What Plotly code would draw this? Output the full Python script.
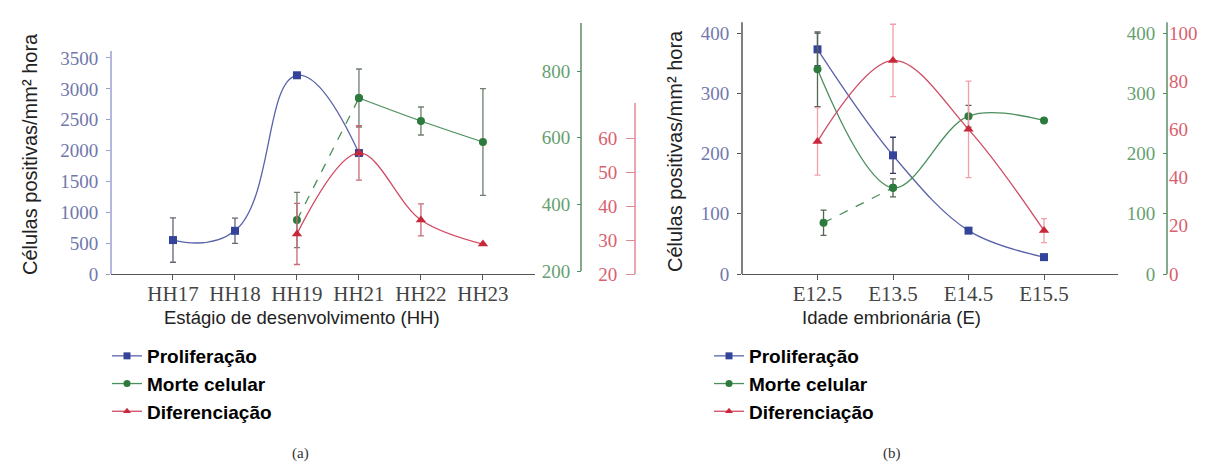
import plotly.graph_objects as go

# ---------------- data ----------------
# Panel (a)
cats_a = ["HH17", "HH18", "HH19", "HH21", "HH22", "HH23"]
prolif_a_cats = ["HH17", "HH18", "HH19", "HH21"]
prolif_a = [550, 700, 3220, 1960]
prolif_a_err = [360, 205, None, None]
morte_a_cats = ["HH21", "HH22", "HH23"]
morte_a = [719, 650, 587]
morte_a_err = [87, 42, 160]
morte_a_dash_cats = ["HH19", "HH21"]
morte_a_dash = [353, 719]
morte_a_dash_err = [83, None]
dif_a_cats = ["HH19", "HH21", "HH22", "HH23"]
dif_a = [31.8, 55.6, 35.9, 28.8]
dif_a_err = [9, 8, 4.7, None]

# Panel (b)
cats_b = ["E12.5", "E13.5", "E14.5", "E15.5"]
prolif_b = [373, 197, 72, 28]
prolif_b_err = [27, 30, None, None]
morte_b = [340, 143, 262, 255]
morte_b_err = [62, 15, 18, None]
morte_b_dash_cats = ["E12.5", "E13.5"]
morte_b_dash = [85, 143]
morte_b_dash_err = [21, None]
dif_b = [55, 88.6, 60, 18]
dif_b_err = [14, 15, 20, 5]

# tick values
ticks_prolif_a = [0, 500, 1000, 1500, 2000, 2500, 3000, 3500]
ticks_morte_a = [200, 400, 600, 800]
ticks_dif_a = [20, 30, 40, 50, 60]
ticks_prolif_b = [0, 100, 200, 300, 400]
ticks_morte_b = [0, 100, 200, 300, 400]
ticks_dif_b = [0, 20, 40, 60, 80, 100]

Y_TITLE = "Células positivas/mm² hora"
DASH_OFFSET = 0.08

# ---------------- geometry helpers ----------------
W, H = 1205, 465
def fx(p):
    return p / W
def fy(p):
    return 1 - p / H

BLUE_L, BLUE_M = "#5a62aa", "#34449a"
GREEN_L, GREEN_M = "#4a8f5c", "#2c7a3c"
RED_L, RED_M = "#d04a62", "#c8283a"
BLUE_T, GREEN_T, RED_T = "#7177ad", "#66a070", "#d9606e"

SERIF = "Liberation Serif"
SANS = "Liberation Sans"

def idx(cats, labels, off=0.0):
    return [cats.index(c) + (off if i == 0 else 0) for i, c in enumerate(labels)]

fig = go.Figure()

def add(x, y, err, xa, ya, name, lc, mc, sym, ecol, dash="solid", size=8, smooth=1.0):
    fig.add_trace(go.Scatter(
        x=x, y=y, xaxis=xa, yaxis=ya, name=f"<b>{name}</b>",
        mode="lines+markers",
        line=dict(color=lc, width=1.3, shape="spline", smoothing=smooth, dash=dash),
        marker=dict(symbol=sym, size=size, color=mc),
        error_y=dict(type="data", array=err, visible=True, color=ecol, thickness=1.3, width=3),
        showlegend=False, cliponaxis=False,
    ))

# Panel (a)
add(idx(cats_a, morte_a_dash_cats), morte_a_dash, morte_a_dash_err, "x", "y3", "Morte celular",
    GREEN_L, GREEN_M, "circle", "#6f7f6f", dash="dash")
add(idx(cats_a, morte_a_cats), morte_a, morte_a_err, "x", "y3", "Morte celular",
    GREEN_L, GREEN_M, "circle", "#6f7f6f")
add(idx(cats_a, prolif_a_cats), prolif_a, prolif_a_err, "x", "y", "Proliferação",
    BLUE_L, BLUE_M, "square", "#666677", smooth=1.3)
add(idx(cats_a, dif_a_cats), dif_a, dif_a_err, "x", "y4", "Diferenciação",
    RED_L, RED_M, "triangle-up", "#c86a78", size=9)

# Panel (b)
xb = list(range(len(cats_b)))
add(xb, dif_b, dif_b_err, "x2", "y6", "Diferenciação",
    RED_L, RED_M, "triangle-up", "#f0a0aa", size=9)
add(xb, prolif_b, prolif_b_err, "x2", "y2", "Proliferação",
    BLUE_L, BLUE_M, "square", "#3a3a60")
add(xb, morte_b, morte_b_err, "x2", "y5", "Morte celular",
    GREEN_L, GREEN_M, "circle", "#556655")
add(idx(cats_b, morte_b_dash_cats, DASH_OFFSET), morte_b_dash, morte_b_dash_err, "x2", "y5",
    "Morte celular", GREEN_L, GREEN_M, "circle", "#556655", dash="dash")

# Legend entries (one legend under each panel)
for lg in ["legend", "legend2"]:
    for name, lc, mc, sym in [("Proliferação", BLUE_L, BLUE_M, "square"),
                              ("Morte celular", GREEN_L, GREEN_M, "circle"),
                              ("Diferenciação", RED_L, RED_M, "triangle-up")]:
        fig.add_trace(go.Scatter(
            x=[None], y=[None], xaxis="x", yaxis="y", name=f"<b>{name}</b>",
            mode="lines+markers", line=dict(color=lc, width=1.3),
            marker=dict(symbol=sym, size=7, color=mc), legend=lg, showlegend=True,
        ))

common_y = dict(showgrid=False, zeroline=False, showline=False, ticks="outside",
                ticklen=4, tickwidth=1, automargin=False, fixedrange=True)
common_x = dict(showgrid=False, zeroline=False, showline=True, linecolor="#555555",
                linewidth=1.3, ticks="outside", ticklen=5, tickcolor="#555555",
                tickfont=dict(family=SERIF, size=21, color="#444444"), automargin=False,
                ticklabelstandoff=-4)

LEFT_DOM_X = [fx(103), fx(527)]
RIGHT_DOM_X = [fx(734), fx(1110)]
DOM_Y = [fy(266), fy(10)]
YT = 19

fig.update_layout(
    width=W, height=H, template="none",
    paper_bgcolor="white", plot_bgcolor="rgba(0,0,0,0)",
    margin=dict(l=0, r=0, t=0, b=0),
    xaxis=dict(domain=LEFT_DOM_X, range=[-1, 5.84], tickvals=list(range(len(cats_a))),
               ticktext=cats_a, anchor="y", **common_x),
    yaxis=dict(domain=DOM_Y, range=[0, 4148], tickvals=ticks_prolif_a, anchor="x",
               tickcolor="#9aa0d0", tickfont=dict(family=SERIF, size=YT, color=BLUE_T),
               ticklabelstandoff=4, **common_y),
    yaxis3=dict(overlaying="y", anchor="free", position=fx(573), side="left",
                range=[191, 959], tickvals=ticks_morte_a, tickcolor=GREEN_L,
                tickfont=dict(family=SERIF, size=YT, color=GREEN_T), ticklabelstandoff=3, **common_y),
    yaxis4=dict(overlaying="y", anchor="free", position=fx(627), side="left",
                range=[20, 95.3], tickvals=ticks_dif_a, tickcolor="#e08a96",
                tickfont=dict(family=SERIF, size=YT, color=RED_T), ticklabelstandoff=5,
                **{**common_y, "ticklen": 9}),
    xaxis2=dict(domain=RIGHT_DOM_X, range=[-1, 3.98], tickvals=xb, ticktext=cats_b,
                anchor="y2", **common_x),
    yaxis2=dict(domain=DOM_Y, range=[0, 425], tickvals=ticks_prolif_b, anchor="x2",
                tickcolor="#555555", tickfont=dict(family=SERIF, size=YT, color=BLUE_T),
                ticklabelstandoff=4, **common_y),
    yaxis5=dict(overlaying="y2", anchor="free", position=fx(1159), side="left",
                range=[0, 425], tickvals=ticks_morte_b, tickcolor=GREEN_L,
                tickfont=dict(family=SERIF, size=YT, color=GREEN_T), ticklabelstandoff=4, **common_y),
    yaxis6=dict(overlaying="y2", anchor="free", position=fx(1159), side="right",
                range=[0, 106.2], tickvals=ticks_dif_b,
                tickfont=dict(family=SERIF, size=YT, color=RED_T), ticklabelstandoff=1,
                **{**common_y, "ticks": ""}),
    legend=dict(x=fx(99), y=fy(329), xanchor="left", yanchor="top", bgcolor="rgba(0,0,0,0)",
                font=dict(family=SANS, size=19, color="#000000"), tracegroupgap=0,
                itemwidth=30),
    legend2=dict(x=fx(701), y=fy(329), xanchor="left", yanchor="top", bgcolor="rgba(0,0,0,0)",
                 font=dict(family=SANS, size=19, color="#000000"), tracegroupgap=0,
                 itemwidth=30),
    showlegend=True,
)

# axis lines (partial length, as in the reference)
axis_lines = [
    ("y", fx(103), 0, 3613, "#9aa0d0"),
    ("y3", fx(573), 200, 944, "#5a8f66"),
    ("y4", fx(627), 20, 70.3, "#e08a96"),
    ("y2", fx(734), 0, 418, "#555555"),
    ("y5", fx(1159), 0, 418, "#5a8f66"),
]
for yref, xp, y0, y1, col in axis_lines:
    fig.add_shape(type="line", xref="paper", yref=yref, x0=xp, x1=xp, y0=y0, y1=y1,
                  line=dict(color=col, width=1.5), layer="above")

ann_font = dict(family=SANS, size=20, color="#222222")
def ann(text, x, y, font, angle=0):
    fig.add_annotation(text=text, x=fx(x), y=fy(y), xref="paper", yref="paper",
                       xanchor="center", yanchor="middle", textangle=angle,
                       showarrow=False, font=font)

ann(Y_TITLE, 22, 146, ann_font, -90)
ann(Y_TITLE, 667, 143, ann_font, -90)
ann("Estágio de desenvolvimento (HH)", 294, 309, dict(family=SANS, size=18.5, color="#222222"))
ann("Idade embrionária (E)", 884, 309, dict(family=SANS, size=18.5, color="#222222"))
ann("(a)", 292, 445, dict(family=SERIF, size=15, color="#333333"))
ann("(b)", 884, 445, dict(family=SERIF, size=15, color="#333333"))

fig.write_html("out.html")
